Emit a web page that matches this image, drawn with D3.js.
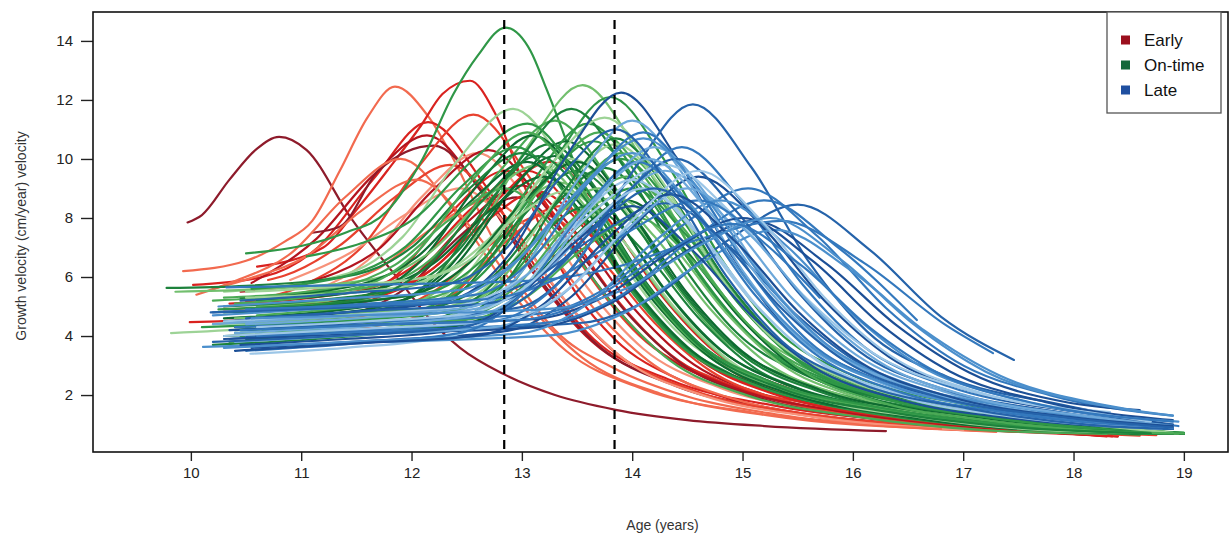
<!DOCTYPE html>
<html>
<head>
<meta charset="utf-8">
<script src="https://cdn.jsdelivr.net/npm/d3@7/dist/d3.min.js"></script>
<style>
  html, body { margin: 0; padding: 0; background: #fff; }
  svg { display: block; font-family: "Liberation Sans", Arial, sans-serif; }
</style>
</head>
<body>
<svg id="chart" width="1231" height="539"></svg>
<script>
// Axis ticks and reference ages (vertical dashed lines)
const xTicks = [10, 11, 12, 13, 14, 15, 16, 17, 18, 19];
const yTicks = [2, 4, 6, 8, 10, 12, 14];
const refAges = [12.84, 13.84];
const groupNames = ["Early", "On-time", "Late"];

// Individual growth-velocity curves: [age (years), velocity (cm/year)] knots
const earlyCurves = [
  [[9.97,7.85],[10.1,8.1],[10.35,9.3],[10.6,10.35],[10.8,10.75],[11.05,10.3],[11.45,8.0],[11.95,5.6],[12.17,4.55],[12.44,3.6],[12.84,2.7],[13.3,2.0],[13.85,1.5],[14.5,1.15],[15.2,0.95],[16.3,0.78]],
  [[9.93,6.2],[10.5,6.55],[10.85,7.2],[11.1,7.9],[11.35,9.6],[11.6,11.4],[11.85,12.45],[12.14,11.5],[12.38,10.0],[12.6,8.3],[12.9,6.2],[13.3,4.2],[13.84,2.9],[14.5,1.95],[15.3,1.35],[16.3,0.95],[17.3,0.78]],
  [[10.6,6.35],[11.2,7.0],[11.5,8.27],[11.8,9.7],[12.08,11.1],[12.28,12.2],[12.53,12.65],[12.75,11.6],[12.97,9.6],[13.2,7.4],[13.5,5.4],[13.84,3.9],[14.5,2.4],[15.3,1.5],[16.3,1.0],[17.5,0.75],[18.3,0.62]],
  [[10.02,5.73],[10.65,6.0],[11.15,7.0],[11.65,9.3],[12.15,11.25],[12.65,9.2],[13.15,6.2],[13.65,3.9],[14.35,2.5],[15.35,1.6],[16.6,1.05],[17.8,0.72]],
  [[10.55,5.8],[11.14,7.3],[11.64,9.4],[12.14,10.8],[12.64,8.85],[13.14,5.95],[13.64,3.8],[14.34,2.4],[15.34,1.5],[16.5,1.0],[17.6,0.75]],
  [[11.1,7.5],[11.35,7.7],[11.7,9.6],[12.2,10.45],[12.7,8.6],[13.2,5.75],[13.7,3.65],[14.4,2.3],[15.4,1.45],[16.5,1.0],[17.5,0.78]],
  [[10.05,5.4],[10.4,5.86],[10.9,6.78],[11.4,8.71],[11.9,10.0],[12.4,8.2],[12.9,5.5],[13.4,3.5],[14.1,2.2],[15.1,1.4],[16.2,1.0],[17.3,0.75]],
  [[10.5,5.15],[11.06,5.79],[11.56,7.06],[12.06,9.72],[12.56,11.5],[13.06,9.43],[13.56,6.33],[14.06,4.03],[14.76,2.53],[15.76,1.61],[16.9,1.05],[18.0,0.7]],
  [[10.3,5.0],[11.1,5.52],[11.6,6.56],[12.1,8.74],[12.6,10.2],[13.1,8.36],[13.6,5.61],[14.1,3.57],[14.8,2.24],[15.8,1.43],[16.8,1.0],[17.8,0.72]],
  [[9.99,4.47],[10.7,4.6],[11.35,4.98],[11.85,6.01],[12.35,8.16],[12.85,9.6],[13.35,7.87],[13.85,5.28],[14.35,3.36],[15.05,2.11],[16.05,1.34],[17.2,0.9],[18.3,0.6]],
  [[10.6,4.6],[11.5,5.05],[12.0,5.95],[12.5,7.84],[13.0,9.1],[13.5,7.46],[14.0,5.0],[14.5,3.19],[15.2,2.0],[16.2,1.27],[17.3,0.85],[18.4,0.6]],
  [[10.4,4.3],[11.45,4.74],[11.95,5.62],[12.45,7.43],[12.95,8.7],[13.45,7.13],[13.95,4.79],[14.45,3.05],[15.15,1.91],[16.15,1.22],[18.0,0.7]],
  [[10.6,4.4],[11.7,4.77],[12.2,5.51],[12.7,7.06],[13.2,8.1],[13.7,6.64],[14.2,4.46],[14.7,2.84],[15.4,1.78],[16.4,1.13],[17.6,0.8],[18.75,0.64]],
  [[10.8,5.3],[11.2,5.63],[11.7,6.29],[12.2,7.68],[12.7,8.6],[13.2,7.05],[13.7,4.73],[14.2,3.01],[14.9,1.89],[15.9,1.2],[17.2,0.8]],
  [[10.3,4.9],[11.0,5.05],[11.75,5.4],[12.25,6.45],[12.75,8.5],[13.25,9.9],[13.75,8.12],[14.25,5.45],[14.75,3.47],[15.45,2.18],[16.45,1.39],[17.5,0.9],[18.4,0.65]],
  [[10.7,5.9],[10.85,6.05],[11.35,7.07],[11.85,8.71],[12.35,9.8],[12.85,8.04],[13.35,5.39],[13.85,3.43],[14.55,2.16],[15.55,1.37],[16.5,1.0],[17.5,0.75]],
  [[10.35,5.1],[11.55,5.55],[12.05,6.45],[12.55,8.34],[13.05,9.6],[13.55,7.87],[14.05,5.28],[14.55,3.36],[15.25,2.11],[16.25,1.34],[17.3,0.9],[18.4,0.6]],
  [[10.9,5.9],[11.45,6.83],[11.95,8.13],[12.45,9.0],[12.95,7.38],[13.45,4.95],[13.95,3.15],[14.65,1.98],[15.65,1.26],[17.0,0.82]],
  [[10.5,4.0],[11.85,4.44],[12.35,5.32],[12.85,7.17],[13.35,8.4],[13.85,6.89],[14.35,4.62],[14.85,2.94],[15.55,1.85],[16.55,1.18],[17.6,0.82],[18.6,0.62]],
  [[10.45,5.5],[11.2,5.98],[11.7,6.94],[12.2,8.96],[12.7,10.3],[13.2,8.45],[13.7,5.67],[14.2,3.61],[14.9,2.27],[15.9,1.44],[17.0,0.95],[18.2,0.66]],
  [[10.2,5.6],[10.55,5.97],[11.05,6.71],[11.55,8.26],[12.05,9.3],[12.55,7.63],[13.05,5.12],[13.55,3.26],[14.25,2.05],[15.25,1.3],[16.8,0.85]],
  [[10.75,5.0],[11.65,5.39],[12.15,6.17],[12.65,7.81],[13.15,8.9],[13.65,7.3],[14.15,4.9],[14.65,3.12],[15.35,1.96],[16.35,1.25],[17.4,0.85],[18.35,0.6]]
];
const earlyShade = [0,4,2,2,1,0,4,3,5,2,1,0,3,4,2,3,2,5,3,1,4,2];

const ontimeCurves = [
  [[10.5,6.8],[11.0,7.05],[11.4,7.5],[11.77,8.2],[12.1,10.0],[12.38,12.2],[12.6,13.5],[12.85,14.45],[13.08,13.65],[13.22,12.4],[13.35,11.15],[13.6,8.6],[13.9,6.2],[14.3,4.2],[14.9,2.7],[15.6,1.8],[16.5,1.2],[17.5,0.85],[18.6,0.66]],
  [[10.6,5.0],[12.05,5.75],[12.55,7.25],[13.05,10.4],[13.55,12.5],[14.05,10.25],[14.55,6.88],[15.05,4.38],[15.75,2.75],[16.75,1.75],[17.85,1.13],[18.5,0.8]],
  [[10.4,4.5],[11.4,4.8],[12.3,5.26],[12.8,6.78],[13.3,9.97],[13.8,12.1],[14.3,9.92],[14.8,6.66],[15.3,4.24],[16.0,2.66],[17.0,1.69],[18.1,1.09],[18.9,0.72]],
  [[10.3,5.5],[11.42,6.12],[11.92,7.36],[12.42,9.96],[12.92,11.7],[13.42,9.59],[13.92,6.44],[14.42,4.1],[15.12,2.57],[16.12,1.64],[17.22,1.05],[18.0,0.78]],
  [[10.2,5.2],[11.0,5.4],[11.8,5.81],[12.3,7.03],[12.8,9.59],[13.3,11.3],[13.8,9.27],[14.3,6.22],[14.8,3.96],[15.5,2.49],[16.5,1.58],[17.6,1.02],[18.7,0.7]],
  [[10.4,4.8],[11.6,5.4],[12.1,6.6],[12.6,9.12],[13.1,10.8],[13.6,8.86],[14.1,5.94],[14.6,3.78],[15.3,2.38],[16.3,1.51],[17.4,0.97],[18.8,0.7]],
  [[10.5,4.3],[11.75,4.92],[12.25,6.16],[12.75,8.76],[13.25,10.5],[13.75,8.61],[14.25,5.78],[14.75,3.68],[15.45,2.31],[16.45,1.47],[17.55,0.95],[18.9,0.68]],
  [[10.3,4.6],[11.9,5.2],[12.4,6.4],[12.9,8.92],[13.4,10.6],[13.9,8.69],[14.4,5.83],[14.9,3.71],[15.6,2.33],[16.6,1.48],[17.7,0.95],[18.9,0.7]],
  [[9.78,5.63],[10.5,5.7],[11.5,6.09],[12.0,7.0],[12.5,8.92],[13.0,10.2],[13.5,8.36],[14.0,5.61],[14.5,3.57],[15.2,2.24],[16.2,1.43],[17.3,0.92],[18.6,0.7]],
  [[9.86,5.5],[10.7,5.6],[11.65,5.93],[12.15,6.79],[12.65,8.6],[13.15,9.8],[13.65,8.04],[14.15,5.39],[14.65,3.43],[15.35,2.16],[16.35,1.37],[17.45,0.88],[18.5,0.7]],
  [[9.82,4.1],[10.8,4.3],[11.95,4.69],[12.45,5.87],[12.95,8.35],[13.45,10.0],[13.95,8.2],[14.45,5.5],[14.95,3.5],[15.65,2.2],[16.65,1.4],[17.75,0.9],[18.9,0.7]],
  [[10.4,4.2],[11.3,4.45],[12.1,4.9],[12.6,6.3],[13.1,9.24],[13.6,11.2],[14.1,9.18],[14.6,6.16],[15.1,3.92],[15.8,2.46],[16.8,1.57],[17.9,1.01],[18.95,0.72]],
  [[10.6,4.7],[11.4,4.95],[12.2,5.32],[12.7,6.56],[13.2,9.16],[13.7,10.9],[14.2,8.94],[14.7,6.0],[15.2,3.82],[15.9,2.4],[16.9,1.53],[18.0,0.98],[19.0,0.68]],
  [[10.45,5.3],[11.55,5.76],[12.05,6.68],[12.55,8.61],[13.05,9.9],[13.55,8.12],[14.05,5.45],[14.55,3.47],[15.25,2.18],[16.25,1.39],[17.35,0.89],[18.6,0.7]],
  [[10.3,4.0],[11.2,4.2],[12.0,4.56],[12.5,5.68],[13.0,8.03],[13.5,9.6],[14.0,7.87],[14.5,5.28],[15.0,3.36],[15.7,2.11],[16.7,1.34],[17.8,0.86],[18.9,0.7]],
  [[10.55,5.6],[11.45,6.08],[11.95,7.04],[12.45,9.06],[12.95,10.4],[13.45,8.53],[13.95,5.72],[14.45,3.64],[15.15,2.29],[16.15,1.46],[17.25,0.94],[18.4,0.7]],
  [[10.35,3.8],[11.4,4.05],[12.4,4.44],[12.9,5.72],[13.4,8.41],[13.9,10.2],[14.4,8.36],[14.9,5.61],[15.4,3.57],[16.1,2.24],[17.1,1.43],[18.2,0.92],[19.0,0.7]],
  [[10.2,4.4],[11.0,4.55],[11.85,4.88],[12.35,5.84],[12.85,7.86],[13.35,9.2],[13.85,7.54],[14.35,5.06],[14.85,3.22],[15.55,2.02],[16.55,1.29],[17.65,0.83],[18.8,0.7]],
  [[10.5,4.5],[11.4,4.7],[12.25,5.02],[12.75,6.06],[13.25,8.24],[13.75,9.7],[14.25,7.95],[14.75,5.34],[15.25,3.4],[15.95,2.13],[16.95,1.36],[18.05,0.87],[19.0,0.68]],
  [[10.6,5.2],[11.7,5.62],[12.2,6.46],[12.7,8.22],[13.2,9.4],[13.7,7.71],[14.2,5.17],[14.7,3.29],[15.4,2.07],[16.4,1.32],[17.5,0.85],[18.7,0.7]],
  [[10.25,4.9],[11.2,5.1],[12.15,5.47],[12.65,6.61],[13.15,9.0],[13.65,10.6],[14.15,8.69],[14.65,5.83],[15.15,3.71],[15.85,2.33],[16.85,1.48],[17.95,0.95],[18.9,0.7]],
  [[10.7,4.4],[11.5,4.6],[12.35,5.01],[12.85,6.23],[13.35,8.79],[13.85,10.5],[14.35,8.61],[14.85,5.78],[15.35,3.68],[16.05,2.31],[17.05,1.47],[18.15,0.95],[19.0,0.72]],
  [[10.4,4.1],[11.4,4.3],[12.45,4.63],[12.95,5.69],[13.45,7.92],[13.95,9.4],[14.45,7.71],[14.95,5.17],[15.45,3.29],[16.15,2.07],[17.15,1.32],[18.25,0.85],[19.0,0.7]],
  [[10.3,5.0],[11.1,5.2],[11.95,5.67],[12.45,7.01],[12.95,9.82],[13.45,11.7],[13.95,9.59],[14.45,6.44],[14.95,4.1],[15.65,2.57],[16.65,1.64],[17.75,1.05],[18.9,0.7]],
  [[10.5,3.9],[11.5,4.05],[12.45,4.37],[12.95,5.31],[13.45,7.28],[13.95,8.6],[14.45,7.05],[14.95,4.73],[15.45,3.01],[16.15,1.89],[17.15,1.2],[18.25,0.8],[19.0,0.7]],
  [[10.4,4.6],[11.4,4.75],[12.35,5.01],[12.85,5.83],[13.35,7.55],[13.85,8.7],[14.35,7.13],[14.85,4.79],[15.35,3.05],[16.05,1.91],[17.05,1.22],[18.15,0.8],[18.95,0.7]],
  [[10.65,4.2],[11.6,4.4],[12.5,4.68],[13.0,5.64],[13.5,7.66],[14.0,9.0],[14.5,7.38],[15.0,4.95],[15.5,3.15],[16.2,1.98],[17.2,1.26],[18.3,0.82],[19.0,0.72]],
  [[10.3,5.3],[11.35,5.67],[11.85,6.41],[12.35,7.96],[12.85,9.0],[13.35,7.38],[13.85,4.95],[14.35,3.15],[15.05,1.98],[16.05,1.26],[17.15,0.82],[18.3,0.68]],
  [[10.45,4.0],[11.3,4.15],[12.1,4.44],[12.6,5.32],[13.1,7.17],[13.6,8.4],[14.1,6.89],[14.6,4.62],[15.1,2.94],[15.8,1.85],[16.8,1.18],[17.9,0.78],[18.9,0.68]],
  [[10.35,4.5],[11.1,4.7],[11.8,5.06],[12.3,6.18],[12.8,8.53],[13.3,10.1],[13.8,8.28],[14.3,5.56],[14.8,3.54],[15.5,2.22],[16.5,1.41],[17.6,0.91],[18.8,0.7]],
  [[10.5,5.3],[11.9,5.66],[12.4,6.38],[12.9,7.89],[13.4,8.9],[13.9,7.3],[14.4,4.9],[14.9,3.12],[15.6,1.96],[16.6,1.25],[17.7,0.82],[18.7,0.72]],
  [[10.1,4.3],[11.3,4.5],[12.4,4.87],[12.9,6.01],[13.4,8.4],[13.9,10.0],[14.4,8.2],[14.9,5.5],[15.4,3.5],[16.1,2.2],[17.1,1.4],[18.2,0.9],[19.0,0.72]],
  [[10.6,4.0],[11.4,4.15],[12.2,4.5],[12.7,5.5],[13.2,7.6],[13.7,9.0],[14.2,7.38],[14.7,4.95],[15.2,3.15],[15.9,1.98],[16.9,1.26],[18.0,0.81],[18.9,0.7]],
  [[10.4,5.1],[11.55,5.68],[12.05,6.84],[12.55,9.28],[13.05,10.9],[13.55,8.94],[14.05,6.0],[14.55,3.82],[15.25,2.4],[16.25,1.53],[17.35,0.98],[18.7,0.7]],
  [[10.2,3.7],[11.3,3.95],[12.35,4.4],[12.85,5.8],[13.35,8.74],[13.85,10.7],[14.35,8.77],[14.85,5.89],[15.35,3.75],[16.05,2.35],[17.05,1.5],[18.15,0.96],[19.0,0.7]],
  [[10.55,4.9],[12.0,5.4],[12.5,6.4],[13.0,8.5],[13.5,9.9],[14.0,8.12],[14.5,5.45],[15.0,3.47],[15.7,2.18],[16.7,1.39],[17.8,0.89],[18.9,0.7]],
  [[11.05,6.7],[11.55,7.15],[12.05,8.05],[12.55,9.94],[13.05,11.2],[13.55,9.18],[14.05,6.16],[14.55,3.92],[15.25,2.46],[16.25,1.57],[17.35,1.01],[18.5,0.72]],
  [[10.5,5.5],[11.4,5.7],[12.25,6.09],[12.75,7.27],[13.25,9.75],[13.75,11.4],[14.25,9.35],[14.75,6.27],[15.25,3.99],[15.95,2.51],[16.95,1.6],[18.05,1.03],[18.9,0.72]],
  [[10.45,4.2],[11.5,4.35],[12.55,4.58],[13.05,5.34],[13.55,6.94],[14.05,8.0],[14.55,6.56],[15.05,4.4],[15.55,2.8],[16.25,1.76],[17.25,1.12],[18.35,0.76],[19.0,0.7]],
  [[10.3,4.8],[11.65,5.33],[12.15,6.39],[12.65,8.62],[13.15,10.1],[13.65,8.28],[14.15,5.56],[14.65,3.54],[15.35,2.22],[16.35,1.41],[17.45,0.91],[18.7,0.7]]
];
const ontimeShade = [2,4,2,5,3,0,1,0,1,4,5,2,3,0,1,2,3,4,1,0,2,5,3,1,0,4,2,3,1,0,5,2,4,3,1,0,2,5,3,1];

const lateCurves = [
  [[10.3,4.5],[11.4,4.8],[12.4,5.28],[12.9,6.83],[13.4,10.08],[13.9,12.25],[14.4,10.05],[14.9,6.74],[15.4,4.29],[16.1,2.7],[17.1,1.72],[18.2,1.1],[18.9,0.9]],
  [[10.4,4.2],[11.7,4.5],[12.98,4.97],[13.5,6.5],[14.03,9.71],[14.55,11.85],[15.08,9.72],[15.6,6.52],[16.13,4.15],[16.86,2.61],[17.91,1.66],[18.9,0.95]],
  [[10.5,4.0],[11.5,4.3],[12.5,4.73],[13.0,6.19],[13.5,9.26],[14.0,11.3],[14.5,9.27],[15.0,6.22],[15.5,3.96],[16.2,2.49],[17.2,1.58],[18.3,1.02],[18.9,0.85]],
  [[10.2,4.8],[11.4,5.05],[12.6,5.41],[13.1,6.63],[13.6,9.19],[14.1,10.9],[14.6,8.94],[15.1,6.0],[15.6,3.82],[16.3,2.4],[17.3,1.53],[18.4,0.98],[18.9,0.85]],
  [[10.35,3.9],[11.6,4.2],[12.8,4.55],[13.35,5.85],[13.9,8.58],[14.45,10.4],[15.0,8.53],[15.55,5.72],[16.1,3.64],[16.87,2.29],[17.97,1.46],[18.95,0.95]],
  [[10.55,3.6],[11.7,3.85],[12.88,4.18],[13.45,5.34],[14.03,7.78],[14.6,9.4],[15.18,7.71],[15.75,5.17],[16.33,3.29],[17.13,2.07],[18.28,1.32],[18.9,1.0]],
  [[10.4,4.3],[11.8,4.5],[13.18,4.77],[13.8,5.71],[14.43,7.68],[15.05,9.0],[15.68,7.38],[16.3,4.95],[16.93,3.15],[17.8,1.98],[18.9,1.3]],
  [[10.5,4.0],[12.0,4.2],[13.55,4.45],[14.2,5.34],[14.85,7.2],[15.5,8.45],[16.15,6.93],[16.8,4.65],[17.46,3.19]],
  [[10.3,3.9],[11.8,4.1],[13.15,4.3],[13.8,5.1],[14.45,6.78],[15.1,7.9],[15.75,6.48],[16.4,4.35],[17.05,2.77],[17.96,1.74],[18.6,1.49]],
  [[10.2,4.7],[11.3,4.95],[12.35,5.25],[12.9,6.35],[13.45,8.66],[14.0,10.2],[14.55,8.36],[15.1,5.61],[15.65,3.57],[16.42,2.24],[17.52,1.43],[18.9,0.9]],
  [[10.5,4.4],[11.5,4.6],[12.58,4.92],[13.15,5.96],[13.73,8.14],[14.3,9.6],[14.88,7.87],[15.45,5.28],[16.03,3.36],[16.83,2.11],[17.98,1.34],[18.9,0.95]],
  [[10.54,3.4],[11.4,3.6],[12.35,3.99],[12.9,5.17],[13.45,7.65],[14.0,9.3],[14.55,7.63],[15.1,5.12],[15.65,3.26],[16.42,2.05],[17.52,1.3],[18.8,0.85]],
  [[10.18,4.8],[11.3,4.95],[12.5,5.17],[13.1,5.91],[13.7,7.46],[14.3,8.5],[14.9,6.97],[15.5,4.68],[16.1,2.98],[16.94,1.87],[18.14,1.19],[18.9,1.0]],
  [[10.32,5.65],[11.8,5.75],[13.1,5.88],[13.85,6.33],[14.6,7.27],[15.35,7.9],[16.1,6.48],[16.85,4.35],[17.27,3.42]],
  [[10.11,3.63],[11.7,3.8],[13.28,4.03],[13.95,4.82],[14.63,6.49],[15.3,7.6],[15.98,6.23],[16.65,4.18],[17.33,2.66],[18.27,1.67],[18.6,1.45]],
  [[10.4,4.1],[11.5,4.35],[12.63,4.73],[13.15,5.99],[13.68,8.64],[14.2,10.4],[14.73,8.53],[15.25,5.72],[15.78,3.64],[16.51,2.29],[17.56,1.46],[18.9,0.9]],
  [[10.45,3.7],[11.4,3.9],[12.35,4.17],[12.9,5.11],[13.45,7.08],[14.0,8.4],[14.55,6.89],[15.1,4.62],[15.65,2.94],[16.42,1.85],[17.52,1.18],[18.9,0.85]],
  [[10.3,4.5],[11.4,4.7],[12.43,5.03],[13.05,6.09],[13.68,8.32],[14.3,9.8],[14.93,8.04],[15.55,5.39],[16.18,3.43],[17.05,2.16],[18.33,1.42]],
  [[10.6,4.0],[12.0,4.2],[13.25,4.46],[13.9,5.38],[14.55,7.31],[15.2,8.6],[15.85,7.05],[16.58,4.54]],
  [[10.5,4.6],[11.6,4.85],[12.75,5.14],[13.3,6.22],[13.85,8.49],[14.4,10.0],[14.95,8.2],[15.5,5.5],[16.05,3.5],[16.82,2.2],[17.92,1.4],[18.9,0.95]],
  [[10.25,5.0],[11.3,5.25],[12.45,5.57],[13.0,6.71],[13.55,9.1],[14.1,10.7],[14.65,8.77],[15.2,5.89],[15.75,3.75],[16.52,2.35],[17.62,1.5],[18.9,0.9]],
  [[10.4,3.8],[11.6,4.05],[12.78,4.32],[13.35,5.36],[13.93,7.54],[14.5,9.0],[15.08,7.38],[15.65,4.95],[16.23,3.15],[17.03,1.98],[18.18,1.26],[18.9,0.95]],
  [[10.35,4.2],[11.8,4.4],[13.13,4.58],[13.75,5.34],[14.38,6.94],[15.0,8.0],[15.63,6.56],[16.25,4.4],[16.88,2.8],[17.75,1.76],[18.9,1.15]],
  [[10.5,3.5],[11.5,3.75],[12.48,4.14],[13.0,5.42],[13.53,8.11],[14.05,9.9],[14.58,8.12],[15.1,5.45],[15.63,3.47],[16.36,2.18],[17.41,1.39],[18.9,0.85]],
  [[10.6,4.3],[11.6,4.5],[12.53,4.77],[13.05,5.71],[13.58,7.68],[14.1,9.0],[14.63,7.38],[15.15,4.95],[15.68,3.15],[16.41,1.98],[17.46,1.26],[18.8,0.85]],
  [[10.45,5.2],[11.4,5.45],[12.35,5.78],[12.85,6.94],[13.35,9.38],[13.85,11.0],[14.35,9.02],[14.85,6.05],[15.35,3.85],[16.05,2.42],[17.05,1.54],[18.15,0.99],[18.9,0.85]],
  [[10.3,3.6],[11.7,3.85],[13.0,4.1],[13.6,5.1],[14.2,7.2],[14.8,8.6],[15.4,7.05],[16.0,4.73],[16.6,3.01],[17.44,1.89],[18.95,1.1]],
  [[10.5,4.9],[11.6,5.05],[12.73,5.27],[13.35,6.01],[13.98,7.56],[14.6,8.6],[15.23,7.05],[15.7,5.3]],
  [[10.2,4.4],[11.3,4.65],[12.5,4.96],[13.05,6.08],[13.6,8.43],[14.15,10.0],[14.7,8.2],[15.25,5.5],[15.8,3.5],[16.57,2.2],[17.67,1.4],[18.9,0.9]],
  [[10.4,3.5],[11.5,3.75],[12.63,4.03],[13.2,5.09],[13.78,7.32],[14.35,8.8],[14.93,7.22],[15.5,4.84],[16.08,3.08],[16.88,1.94],[18.03,1.23],[18.9,0.95]],
  [[10.3,4.0],[11.6,4.25],[12.88,4.56],[13.45,5.68],[14.03,8.03],[14.6,9.6],[15.18,7.87],[15.75,5.28],[16.33,3.36],[17.13,2.11],[18.28,1.34],[18.7,1.1]],
  [[10.55,4.6],[12.0,4.75],[13.3,4.94],[13.95,5.62],[14.6,7.05],[15.25,8.0],[15.9,6.56],[16.55,4.4],[17.2,2.8],[18.11,1.76],[18.9,1.3]],
  [[10.2,3.8],[11.3,4.0],[12.48,4.32],[13.05,5.36],[13.63,7.54],[14.2,9.0],[14.78,7.38],[15.35,4.95],[15.93,3.15],[16.73,1.98],[17.88,1.26],[18.9,0.9]],
  [[10.45,4.2],[11.8,4.4],[13.03,4.56],[13.65,5.28],[14.28,6.79],[14.9,7.8],[15.53,6.4],[16.15,4.29],[16.78,2.73],[17.65,1.72],[18.9,1.1]]
];
const lateShade = [0,1,4,2,2,0,2,1,0,3,4,5,1,2,3,4,0,5,2,1,3,4,0,2,5,1,3,2,4,0,5,3,1,2];

// Colour ramps for each maturity group, dark to light
const redRamp   = ["#8e1b2b", "#b3141f", "#d9221f", "#e8412e", "#f26a4f", "#f7927a"];
const greenRamp = ["#0e6b31", "#1d823c", "#2f9747", "#4aaa55", "#72bf6e", "#9dd396"];
const blueRamp  = ["#1c4f96", "#2563aa", "#3378bd", "#4b8fcc", "#6da8da", "#9cc6e7"];
const legendColors = ["#9b0f1d", "#14683a", "#1f4fa0"];

const svg = d3.select("#chart");
const frame = { left: 93, right: 1228, top: 12, bottom: 452 };

const x = d3.scaleLinear().domain([9.113, 19.40]).range([frame.left, frame.right]);
const y = d3.scaleLinear().domain([0.07, 14.98]).range([frame.bottom, frame.top]);

const line = d3.line()
  .x(d => x(d[0]))
  .y(d => y(d[1]))
  .curve(d3.curveMonotoneX);

const plot = svg.append("g");
plot.append("clipPath").attr("id", "clip")
  .append("rect")
  .attr("x", frame.left).attr("y", frame.top)
  .attr("width", frame.right - frame.left).attr("height", frame.bottom - frame.top);

const curvesG = plot.append("g").attr("clip-path", "url(#clip)");

function drawGroup(curves, shades, ramp, cls) {
  curvesG.append("g").attr("class", cls)
    .selectAll("path")
    .data(curves)
    .join("path")
    .attr("d", line)
    .attr("fill", "none")
    .attr("stroke", (d, i) => ramp[shades[i]])
    .attr("stroke-width", 2.2)
    .attr("stroke-linecap", "round")
    .attr("stroke-linejoin", "round");
}
drawGroup(earlyCurves, earlyShade, redRamp, "early");
drawGroup(ontimeCurves, ontimeShade, greenRamp, "ontime");
drawGroup(lateCurves, lateShade, blueRamp, "late");

// Reference ages
curvesG.append("g").selectAll("line")
  .data(refAges)
  .join("line")
  .attr("x1", d => x(d)).attr("x2", d => x(d))
  .attr("y1", frame.top + 8).attr("y2", frame.bottom)
  .attr("stroke", "#000")
  .attr("stroke-width", 2.2)
  .attr("stroke-dasharray", "9,6");

// Axes
const xAxis = d3.axisBottom(x).tickValues(xTicks).tickSize(9).tickPadding(6).tickFormat(d3.format("d"));
const yAxis = d3.axisLeft(y).tickValues(yTicks).tickSize(12).tickPadding(8).tickFormat(d3.format("d"));

const gx = svg.append("g").attr("transform", `translate(0,${frame.bottom})`).call(xAxis);
const gy = svg.append("g").attr("transform", `translate(${frame.left},0)`).call(yAxis);
[gx, gy].forEach(g => {
  g.select(".domain").remove();
  g.selectAll(".tick line").attr("stroke", "#222").attr("stroke-width", 1.4);
  g.selectAll(".tick text").attr("fill", "#222").style("font-size", "15px")
    .style("font-family", "'Liberation Sans', Arial, sans-serif");
});

// Plot frame
svg.append("rect")
  .attr("x", frame.left).attr("y", frame.top)
  .attr("width", frame.right - frame.left).attr("height", frame.bottom - frame.top)
  .attr("fill", "none").attr("stroke", "#111").attr("stroke-width", 1.6);

// Axis titles
svg.append("text")
  .attr("x", (frame.left + frame.right) / 2 + 2).attr("y", 530)
  .attr("text-anchor", "middle")
  .attr("fill", "#333").style("font-size", "14px")
  .text("Age (years)");

svg.append("text")
  .attr("transform", `translate(26,${(frame.top + frame.bottom) / 2 + 4}) rotate(-90)`)
  .attr("text-anchor", "middle")
  .attr("fill", "#333").style("font-size", "14px")
  .text("Growth velocity (cm/year) velocity");

// Legend
const legend = svg.append("g").attr("transform", "translate(1107,12)");
legend.append("rect")
  .attr("width", 114).attr("height", 101)
  .attr("fill", "#fff").attr("stroke", "#555").attr("stroke-width", 1.3);
const items = legend.selectAll("g.item")
  .data(groupNames)
  .join("g")
  .attr("class", "item")
  .attr("transform", (d, i) => `translate(0,${28 + i * 25})`);
items.append("rect")
  .attr("x", 14).attr("y", -4.5).attr("width", 9).attr("height", 9)
  .attr("fill", (d, i) => legendColors[i]);
items.append("text")
  .attr("x", 37).attr("y", 6)
  .attr("fill", "#111").style("font-size", "17px")
  .text(d => d);
</script>
</body>
</html>
